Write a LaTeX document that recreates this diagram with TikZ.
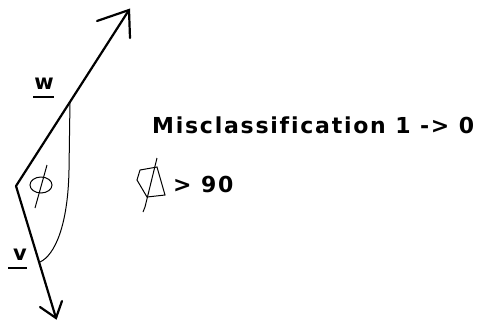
\documentclass[tikz,border=0pt]{standalone}
\usepackage{fontspec}
\setmainfont[Ligatures=NoCommon]{DejaVu Sans}
\begin{document}
\begin{tikzpicture}[x=1pt,y=-1pt,
  vec/.style={line width=2.2pt,line cap=round},
  thin/.style={line width=1pt},
  lbl/.style={font=\bfseries\fontsize{21}{21}\selectfont,inner sep=0pt},
  txt/.style={font=\bfseries\fontsize{22}{22}\selectfont\addfontfeature{LetterSpace=8},anchor=base west,inner sep=0pt}]
\useasboundingbox[fill=white] (0,0) rectangle (481,325);
\coordinate (O) at (16,186);
\coordinate (W) at (129,10);
\coordinate (V) at (56,318);
\coordinate (P) at (70,101);
\coordinate (Q) at (40,262);
\draw[vec] (O) -- (W);
\draw[vec] (97,21) -- (W) -- (130,38);
\draw[vec] (O) -- (V);
\draw[vec] (40,307) -- (V) -- (62,301);
\draw[thin] (P) -- (69,170) .. controls (68,225) and (55,255) .. (Q);
% phi in angle
\draw[thin] (41,185) ellipse (11 and 8);
\draw[thin] (47,165) -- (35,208);
% labels
\node[lbl,anchor=base] (wl) at (44,89) {w};
\draw[line width=2pt] (33,97) -- (54,97);
\node[lbl,anchor=base] (vl) at (20,260) {v};
\draw[line width=2pt] (8,268) -- (27,268);
\node[txt] (mis) at (152,133) {Misclassif{}ication 1 -> 0};
\node[txt] (gt) at (173,192) {> 90};
% hand phi
\draw[thin] (140,170) -- (157,167) -- (165,195) -- (147,197) -- (137,180) -- cycle;
\draw[thin] (157,158) -- (145,207) -- (143,212);
\end{tikzpicture}
\end{document}
